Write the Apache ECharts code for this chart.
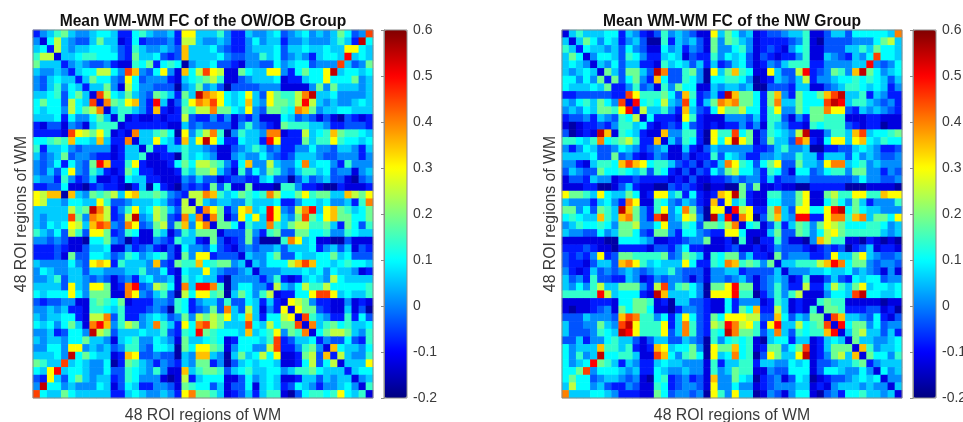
<!DOCTYPE html>
<html>
<head>
<meta charset="utf-8">
<style>html,body{margin:0;padding:0;background:#fff;overflow:hidden}#c{width:963px;height:422px;filter:blur(0.45px)}</style>
<script src="https://cdn.jsdelivr.net/npm/echarts@6/dist/echarts.min.js"></script>
</head>
<body>
<div id="c"></div>
<script>
// Upper triangle of each symmetric matrix: row i holds columns i..47.
const levelChars = "0123456789abcdefg";
const levelValues = [-0.17,-0.125,-0.08,-0.035,0.01,0.06,0.1,0.14,0.185,0.25,0.3,0.35,0.4,0.45,0.5,0.55,0.6];
const rowsOWOB = [
"24578544"+"56652267"+"54452aa5"+"55742254"+"45634564"+"5458634d",
"1695433"+"58551262"+"33342995"+"44542246"+"45524454"+"445752f6",
"295455"+"66653275"+"44543b55"+"56432245"+"55635565"+"5655aa65",
"15567"+"76663285"+"56323b55"+"55643344"+"75634542"+"5665e565",
"2454"+"33421176"+"82676045"+"56332144"+"33645663"+"444d5348",
"256"+"69964db4"+"36a41b69"+"da911865"+"5aa42686"+"6af56656",
"25"+"86643a63"+"44421567"+"89711345"+"55612256"+"6a666845",
"2"+"55841964"+"43330458"+"45303333"+"44411114"+"84855545",
"1d965854"+"3875285f"+"cba656a5"+"3a8779cf"+"55644445",
"1c87ab4"+"2e5137ac"+"bda656b5"+"4a8879e9"+"54544565",
"157754"+"2b212879"+"9c8865a4"+"38876cb8"+"45566555",
"17121"+"12122932"+"24241324"+"11165343"+"13103212",
"1222"+"22211534"+"33331474"+"32187775"+"54223332",
"1c5"+"57860a47"+"9c704755"+"4cc12295"+"67b87765",
"15"+"5a652b5a"+"fa622655"+"2ea22285"+"77a76656",
"1"+"72255755"+"43113457"+"53422446"+"44355425",
"11220756"+"54114544"+"64323555"+"43344424",
"1126869"+"987426b4"+"495446c5"+"66427444",
"112758"+"89531736"+"48743577"+"56344145",
"11435"+"33123322"+"56330353"+"45331034",
"0323"+"28371181"+"11077422"+"10021112",
"299"+"cb756876"+"7c9668a7"+"8855b98a",
"19"+"54554475"+"55622466"+"5644527c",
"2"+"ca824ab5"+"6ea439ce"+"5ab87568",
"1c813a6a"+"5ea548d8"+"6ab88668",
"1886275"+"5c758997"+"78528637",
"133384"+"27833886"+"67447655",
"12383"+"0007ca56"+"11003111",
"1343"+"44535556"+"24535132",
"154"+"46833655"+"66856333",
"15"+"46669bdb"+"66567665",
"1"+"44455565"+"64655412",
"24721256"+"54965555",
"2954697"+"79666667",
"12266a"+"dda56557",
"1a984"+"22114121",
"1a88"+"32115130",
"1d7"+"54227263",
"1c"+"57867556",
"1"+"68998547",
"24336327","1b65546","295447","1555a","2566","145","17","1"
];
const rowsNW = [
"15755566"+"25421374"+"54311a58"+"64512334"+"55711355"+"3666665c",
"1586465"+"24530072"+"54531848"+"75412222"+"34710333"+"34446895",
"265545"+"36431164"+"52431844"+"67412321"+"46711333"+"55758665",
"14665"+"37642256"+"51322746"+"56313212"+"24711543"+"2546d665",
"1546"+"35522175"+"65352523"+"56312435"+"77722444"+"455e4346",
"185"+"38853fc3"+"37840a58"+"b7611a53"+"39e23487"+"4bf86456",
"28"+"36842b63"+"37640667"+"76401254"+"35924456"+"67676535",
"2"+"24734174"+"86611545"+"54500333"+"25511345"+"77656524",
"2da77786"+"3b72352f"+"b88628b4"+"28668bdf"+"55725422",
"1e67695"+"4d6258cb"+"c88628c5"+"58666dfe"+"57754342",
"295574"+"2b5326a8"+"896627a4"+"48688caa"+"32545432",
"16222"+"1a721114"+"44352773"+"14288777"+"11122111",
"2123"+"26321212"+"24241754"+"22176777"+"32122011",
"1b4"+"47720a77"+"d6813765"+"49f11477"+"5bd56678",
"15"+"37620a6a"+"fa813855"+"3db216aa"+"5ab65766",
"1"+"15213544"+"44422357"+"44500223"+"35654223",
"13122736"+"54224454"+"47552555"+"36454334",
"231325c"+"a76368a3"+"38554acc"+"56745444",
"132648"+"96642763"+"16634677"+"48844243",
"11223"+"43442523"+"34433333"+"34644334",
"0110"+"08381121"+"10022222"+"00011110",
"2ba"+"f8211774"+"48a11897"+"7aa77baa",
"2a"+"57211664"+"48a11686"+"48524447",
"1"+"e9a228c5"+"3aa66aef"+"68655444",
"1ca038b5"+"4ee22acc"+"7bc5886a",
"1671372"+"58748a98"+"66677645",
"111583"+"387469a8"+"77777545",
"02273"+"1104b977"+"11021010",
"1243"+"33212323"+"02351221",
"183"+"444223a5"+"58a54334",
"15"+"57779bec"+"68843443",
"1"+"44455655"+"64543141",
"12711353"+"26566344",
"2922597"+"58a56656",
"111466"+"5df66556",
"17877"+"11111011",
"1887"+"22233120",
"1db"+"55436213",
"1e"+"68846344",
"1"+"58955352",
"18554456","1b74556","186647","24555","1645","144","15","1"
];
const regionLabels = Array.from({length:48},(_,i)=>String(i+1));
const colorbarTicks = [-0.2,-0.1,0,0.1,0.2,0.3,0.4,0.5,0.6];
const jetColors = ['#000080','#0000ff','#0080ff','#00ffff','#80ff80','#ffff00','#ff8000','#ff0000','#800000'];
const titleOWOB = 'Mean WM-WM FC of the OW/OB Group';
const titleNW = 'Mean WM-WM FC of the NW Group';
const axisTitle = '48 ROI regions of WM';

function decode(rows){
  const out=[];
  rows.forEach((s,i)=>{
    for(let k=0;k<s.length;k++){
      const j=i+k, v=levelValues[levelChars.indexOf(s[k])];
      out.push([j,i,v]);
      if(j!==i) out.push([i,j,v]);
    }
  });
  return out;
}
const panels=[
  {left:33,width:340,barLeft:384,title:titleOWOB,data:decode(rowsOWOB)},
  {left:562,width:340,barLeft:913,title:titleNW,data:decode(rowsNW)}
];
const plotTop=30, plotH=368, barW=23;
const frame='#8a8a8a', ink='#3a3a3a', font='"Liberation Sans", Arial, sans-serif';

const option={
  animation:false,
  backgroundColor:'#fff',
  textStyle:{fontFamily:font},
  title:panels.map(p=>({
    text:p.title,left:p.left+p.width/2,top:14,textAlign:'center',padding:0,
    textStyle:{fontSize:15.6,fontWeight:'bold',color:'#111',fontFamily:font}
  })),
  grid:[],xAxis:[],yAxis:[],series:[],visualMap:[]
};
panels.forEach((p,idx)=>{
  const g=option.grid.length;
  option.grid.push({left:p.left,top:plotTop,width:p.width,height:plotH,outerBoundsMode:'none',containLabel:false,show:true,borderColor:frame,borderWidth:1,backgroundColor:'transparent',z:5});
  option.xAxis.push({type:'category',gridIndex:g,data:regionLabels,axisLine:{show:false},axisTick:{show:false},axisLabel:{show:false},splitLine:{show:false},
    name:axisTitle,nameLocation:'middle',nameGap:10,nameTextStyle:{fontSize:15.8,color:ink,fontFamily:font}});
  option.yAxis.push({type:'category',gridIndex:g,inverse:true,data:regionLabels,axisLine:{show:false},axisTick:{show:false},axisLabel:{show:false},splitLine:{show:false},
    name:axisTitle,nameLocation:'middle',nameGap:3,nameRotate:90,nameTextStyle:{fontSize:15.8,color:ink,fontFamily:font}});
  option.series.push({type:'heatmap',xAxisIndex:g,yAxisIndex:g,data:p.data,progressive:0,emphasis:{disabled:true},itemStyle:{borderWidth:0}});
  option.visualMap.push({type:'continuous',seriesIndex:idx,min:colorbarTicks[0],max:colorbarTicks[colorbarTicks.length-1],
    left:p.barLeft,top:plotTop,itemWidth:barW,itemHeight:plotH,padding:0,text:null,showLabel:false,calculable:false,hoverLink:false,realtime:false,
    inRange:{color:jetColors},textStyle:{color:'transparent',fontSize:1},z:1});
  const b=option.grid.length;
  option.grid.push({left:p.barLeft,top:plotTop,width:barW,height:plotH,outerBoundsMode:'none',containLabel:false,show:true,borderColor:frame,borderWidth:1,backgroundColor:'transparent',z:5});
  option.xAxis.push({type:'value',gridIndex:b,min:0,max:1,show:false});
  option.yAxis.push({type:'value',gridIndex:b,position:'right',min:colorbarTicks[0],max:colorbarTicks[colorbarTicks.length-1],interval:0.1,
    axisLine:{show:true,lineStyle:{color:frame}},axisTick:{show:true,inside:true,length:3,lineStyle:{color:frame}},splitLine:{show:false},
    axisLabel:{show:true,margin:6,fontSize:14,color:ink,fontFamily:font,showMinLabel:true,showMaxLabel:true,formatter:v=>String(+v.toFixed(1))},z:6});
});
echarts.init(document.getElementById('c'),null,{renderer:'canvas'}).setOption(option);
</script>
</body>
</html>
